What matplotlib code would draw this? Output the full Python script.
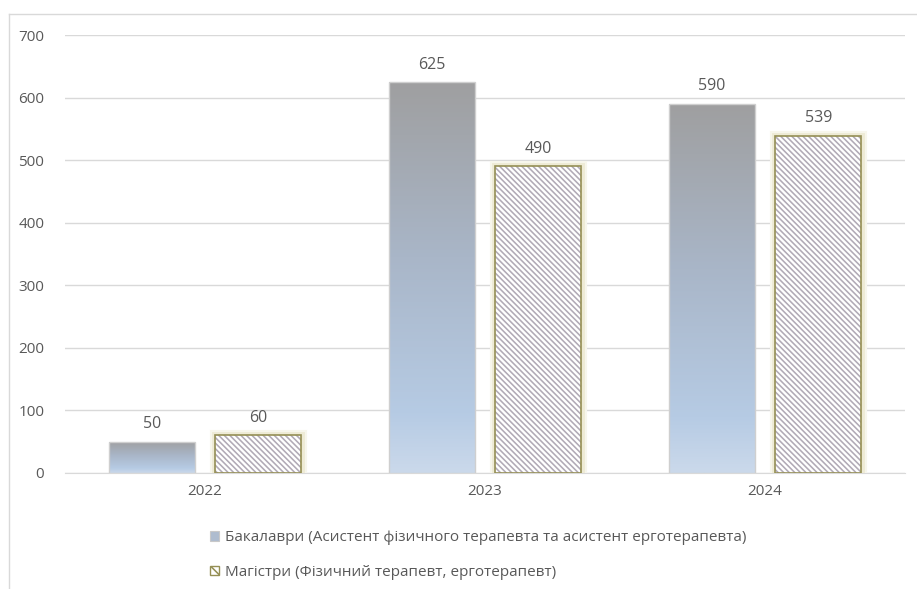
import numpy as np
import matplotlib
matplotlib.use("Agg")
import matplotlib.pyplot as plt
from matplotlib.patches import Rectangle, Patch
from matplotlib.lines import Line2D
from matplotlib.colors import LinearSegmentedColormap
import matplotlib.patheffects as pe

years = ["2022", "2023", "2024"]
bachelors = [50, 625, 590]
masters = [60, 490, 539]
series_names = ["Бакалаври (Асистент фізичного терапевта та асистент ерготерапевта)",
                "Магістри (Фізичний терапевт, ерготерапевт)"]
yticks = [0, 100, 200, 300, 400, 500, 600, 700]

plt.rcParams['font.family'] = ['Open Sans', 'DejaVu Sans']
plt.rcParams['hatch.linewidth'] = 1.15

W, H = 917, 589
fig = plt.figure(figsize=(W / 100, H / 100), dpi=100)
ax = fig.add_axes([65 / W, 1 - 473 / H, 840 / W, 438 / H])

# outer frame (left and top edges visible)
fig.add_artist(Line2D([8.5 / W, 8.5 / W], [0, 1 - 13.5 / H], transform=fig.transFigure,
                      color='#D9D9D9', linewidth=1.0))
fig.add_artist(Line2D([8.5 / W, 1], [1 - 13.5 / H, 1 - 13.5 / H], transform=fig.transFigure,
                      color='#D9D9D9', linewidth=1.0))

x = np.arange(len(years))
bw = 0.307
off = 0.19
grey = '#595959'
hatch_col = '#B1AAB6'
olive = '#958F55'
HATCH = '\\' * 6

cmap = LinearSegmentedColormap.from_list('g', [(0.0, '#CBD9EB'), (0.15, '#B6CBE4'),
                                              (0.55, '#A9B6C8'), (1.0, '#9F9FA0')])
grad = np.linspace(0, 1, 256).reshape(-1, 1)

for xi, v in zip(x, bachelors):
    r = Rectangle((xi - off - bw / 2, 0), bw, v, facecolor='none', edgecolor='#CFCFCF',
                  linewidth=1.0, zorder=3)
    ax.add_patch(r)
    im = ax.imshow(grad, extent=(xi - off - bw / 2, xi - off + bw / 2, 0, v), origin='lower',
                   cmap=cmap, aspect='auto', zorder=2.5)
    im.set_clip_path(r)
    ax.text(xi - off, v + 15, str(v), ha='center', va='bottom', fontsize=11.5, color=grey)

for xi, v in zip(x, masters):
    x0 = xi + off - bw / 2
    glow = Rectangle((x0, 0), bw, v, facecolor='none', edgecolor='#E9E6CC', linewidth=1,
                     zorder=2.8)
    glow.set_path_effects([pe.Stroke(linewidth=8, foreground='#F7F6EC'),
                           pe.Stroke(linewidth=5, foreground='#EEEBD6'),
                           pe.Normal()])
    ax.add_patch(glow)
    ax.add_patch(Rectangle((x0, 0), bw, v, facecolor='white', edgecolor=hatch_col,
                           linewidth=0, hatch=HATCH, zorder=3))
    ax.add_patch(Rectangle((x0, 0), bw, v, facecolor='none', edgecolor=olive,
                           linewidth=1.2, zorder=3.1))
    ax.text(xi + off, v + 15, str(v), ha='center', va='bottom', fontsize=11.5, color=grey)

ax.set_xlim(-0.5, 2.5)
ax.set_ylim(0, 700)
ax.set_yticks(yticks)
ax.set_xticks(x)
ax.set_xticklabels(years)
ax.tick_params(axis='both', length=0, labelsize=11, labelcolor=grey)
ax.tick_params(axis='y', pad=15)
ax.tick_params(axis='x', pad=8)
ax.grid(axis='y', color='#D9D9D9', linewidth=1.0)
ax.set_axisbelow(True)
for s in ['top', 'right', 'left']:
    ax.spines[s].set_visible(False)
ax.spines['bottom'].set_color('#D9D9D9')
ax.spines['bottom'].set_zorder(1)

h1 = Patch(facecolor='#AEBCCF', edgecolor='#C8C8C8', linewidth=0.8)
h2 = Patch(facecolor='white', edgecolor=olive, hatch='\\\\\\', linewidth=1.0)
leg = fig.legend([h1, h2], series_names, loc='upper left', bbox_to_anchor=(204 / W, 1 - 524 / H),
                 frameon=False, fontsize=11, labelcolor=grey, handlelength=0.6, handleheight=0.6,
                 handletextpad=0.35, labelspacing=1.3, borderaxespad=0)

fig.savefig('out.png', dpi=100)
